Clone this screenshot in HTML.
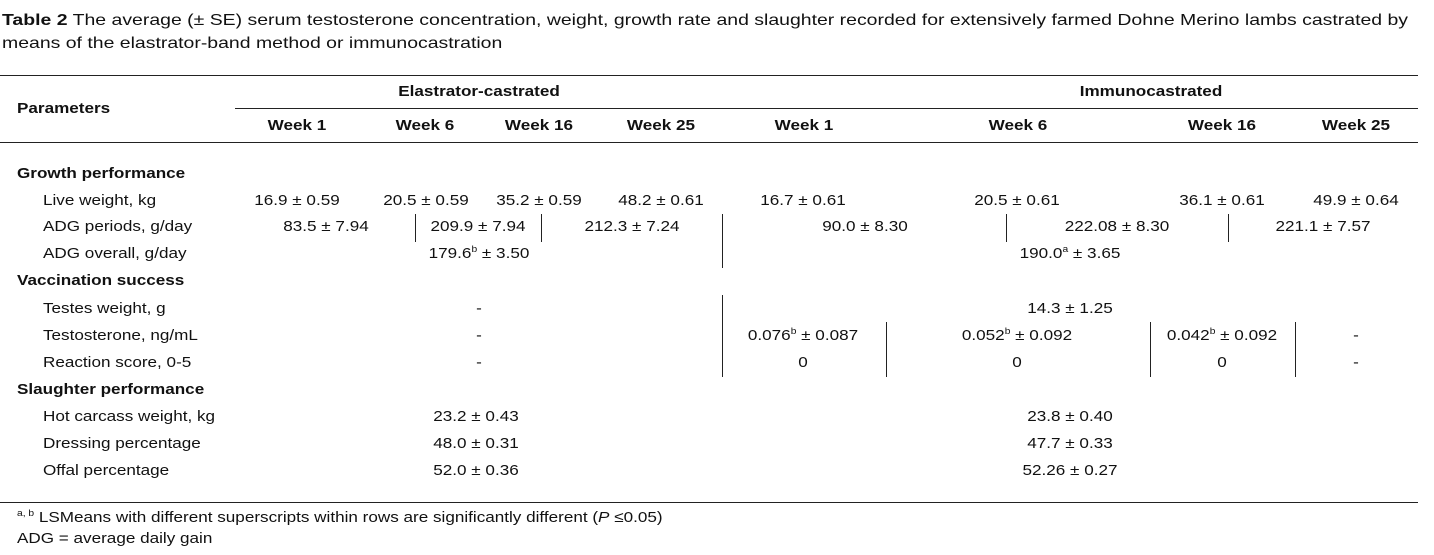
<!DOCTYPE html>
<html><head><meta charset="utf-8"><style>
body{margin:0;width:1434px;height:555px;background:#fff;position:relative;overflow:hidden;font-family:"Liberation Sans",Arial,sans-serif;color:#111}
.t{position:absolute;font-size:15px;line-height:18px;white-space:nowrap;transform:scaleX(1.14);transform-origin:0 0}
.c{transform:translateX(-50%) scaleX(1.14);transform-origin:50% 0}
.b{font-weight:bold}
.h{position:absolute;height:1px;background:#222}
.v{position:absolute;width:1px;background:#222}
sup{font-size:9px;line-height:0;vertical-align:6px}
</style></head><body>
<div class="t" style="left:2px;top:9px;font-size:16px;line-height:23px;white-space:normal;width:1176px;transform:scaleX(1.215)"><b>Table 2</b> The average (± SE) serum testosterone concentration, weight, growth rate and slaughter recorded for extensively farmed Dohne Merino lambs castrated by means of the elastrator-band method or immunocastration</div>
<div class="h" style="left:0;top:75px;width:1418px"></div>
<div class="h" style="left:235px;top:108px;width:1183px"></div>
<div class="h" style="left:0;top:142px;width:1418px"></div>
<div class="h" style="left:0;top:502px;width:1418px"></div>
<div class="t b" style="left:17px;top:100px">Parameters</div>
<div class="t b c" style="left:479px;top:83px">Elastrator-castrated</div>
<div class="t b c" style="left:1151px;top:83px">Immunocastrated</div>
<div id="wk"></div>
<div class="v" style="left:415px;top:214px;height:28px"></div>
<div class="v" style="left:541px;top:214px;height:28px"></div>
<div class="v" style="left:1006px;top:214px;height:28px"></div>
<div class="v" style="left:1228px;top:214px;height:28px"></div>
<div class="v" style="left:722px;top:214px;height:54px"></div>
<div class="v" style="left:722px;top:295px;height:82px"></div>
<div class="v" style="left:886px;top:322px;height:55px"></div>
<div class="v" style="left:1150px;top:322px;height:55px"></div>
<div class="v" style="left:1295px;top:322px;height:55px"></div>
<div id="cells"></div>
<div class="t" style="left:17px;top:509px"><sup>a, b</sup> LSMeans with different superscripts within rows are significantly different (<i>P</i> ≤0.05)</div>
<div class="t" style="left:17px;top:530px">ADG = average daily gain</div>
<script>
const weekLabels=["Week 1","Week 6","Week 16","Week 25","Week 1","Week 6","Week 16","Week 25"];
const weekX=[297,425,539,661,804,1018,1222,1356];
const rows=[
 [165,"Growth performance",1,[]],
 [192,"Live weight, kg",0,[[297,"16.9 ± 0.59"],[426,"20.5 ± 0.59"],[539,"35.2 ± 0.59"],[661,"48.2 ± 0.61"],[803,"16.7 ± 0.61"],[1017,"20.5 ± 0.61"],[1222,"36.1 ± 0.61"],[1356,"49.9 ± 0.64"]]],
 [218,"ADG periods, g/day",0,[[326,"83.5 ± 7.94"],[478,"209.9 ± 7.94"],[632,"212.3 ± 7.24"],[865,"90.0 ± 8.30"],[1117,"222.08 ± 8.30"],[1323,"221.1 ± 7.57"]]],
 [245,"ADG overall, g/day",0,[[479,"179.6<sup>b</sup> ± 3.50"],[1070,"190.0<sup>a</sup> ± 3.65"]]],
 [272,"Vaccination success",1,[]],
 [300,"Testes weight, g",0,[[479,"-"],[1070,"14.3 ± 1.25"]]],
 [327,"Testosterone, ng/mL",0,[[479,"-"],[803,"0.076<sup>b</sup> ± 0.087"],[1017,"0.052<sup>b</sup> ± 0.092"],[1222,"0.042<sup>b</sup> ± 0.092"],[1356,"-"]]],
 [354,"Reaction score, 0-5",0,[[479,"-"],[803,"0"],[1017,"0"],[1222,"0"],[1356,"-"]]],
 [381,"Slaughter performance",1,[]],
 [408,"Hot carcass weight, kg",0,[[476,"23.2 ± 0.43"],[1070,"23.8 ± 0.40"]]],
 [435,"Dressing percentage",0,[[476,"48.0 ± 0.31"],[1070,"47.7 ± 0.33"]]],
 [462,"Offal percentage",0,[[476,"52.0 ± 0.36"],[1070,"52.26 ± 0.27"]]]
];
const wk=document.getElementById('wk');
weekLabels.forEach((w,i)=>{const d=document.createElement('div');d.className='t b c';d.style.left=weekX[i]+'px';d.style.top='117px';d.textContent=w;


wk.appendChild(d);});
const cells=document.getElementById('cells');
rows.forEach(r=>{const l=document.createElement('div');l.className='t'+(r[2]?' b':'');l.style.left=(r[2]?17:43)+'px';l.style.top=r[0]+'px';l.textContent=r[1];


cells.appendChild(l);
r[3].forEach(c=>{const d=document.createElement('div');d.className='t c';d.style.left=c[0]+'px';d.style.top=r[0]+'px';d.innerHTML=c[1];


cells.appendChild(d);});});
</script>
</body></html>
